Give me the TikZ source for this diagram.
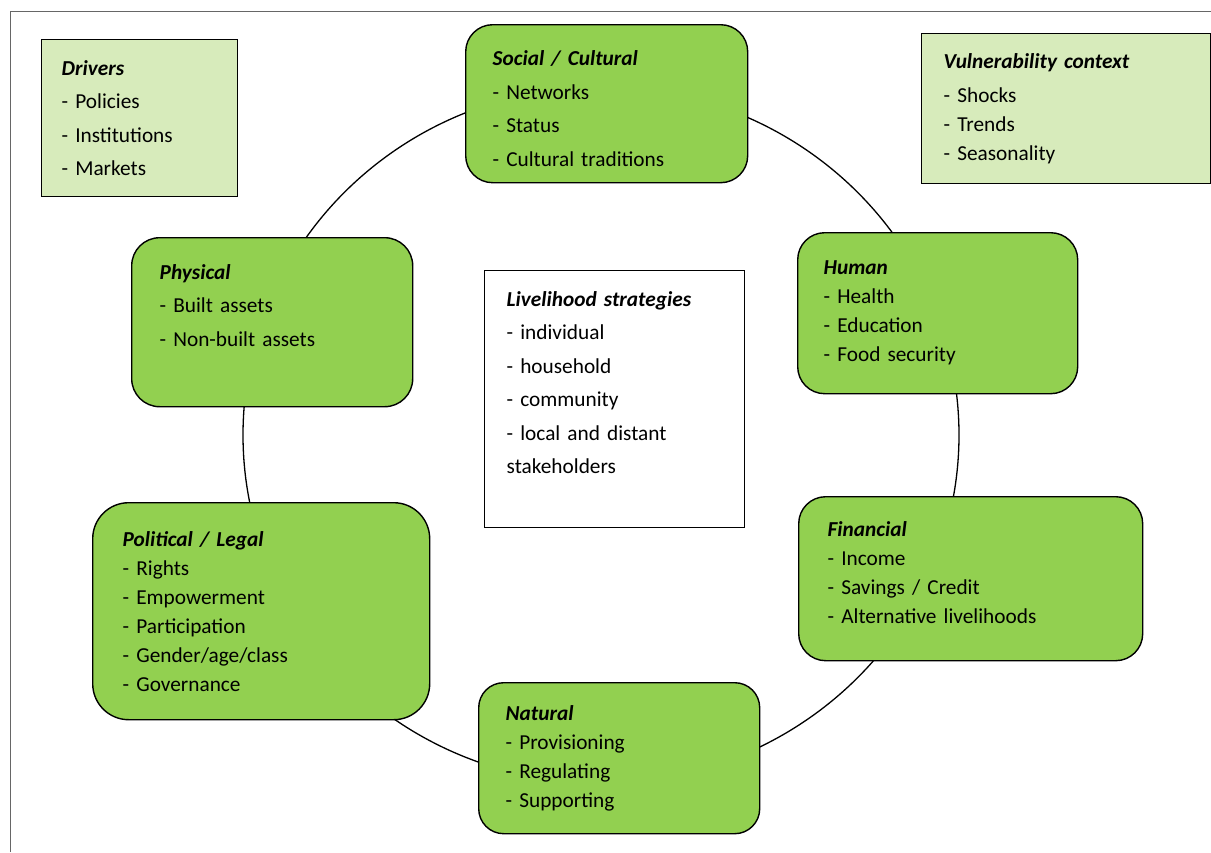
\documentclass[tikz,border=0pt]{standalone}
\usepackage{fontspec}
\setmainfont{Carlito}
\usepackage{tikz}

\definecolor{capgreen}{HTML}{92D050}
\definecolor{ctxgreen}{HTML}{D7EBBB}

\begin{document}
\begin{tikzpicture}[
    x=1pt, y=-1pt,
    font=\fontsize{21.3}{29}\selectfont,
    capital/.style={draw=black, line width=1.4pt, fill=capgreen,
        rounded corners=27pt, anchor=north west, align=left, inner ysep=0pt},
    context/.style={draw=black, line width=1.4pt, fill=ctxgreen,
        anchor=north west, align=left, inner ysep=0pt},
    strategy/.style={draw=black, line width=1.4pt, fill=white,
        anchor=north west, align=left, inner ysep=0pt},
    wide/.style={font=\fontsize{21.3}{33.5}\selectfont},
    ring/.style={draw=black, line width=1.3pt},
    frame/.style={draw=black!60, line width=1pt}
    ]
    \useasboundingbox (0,0) rectangle (1211,852);

    % Rahmen
    \draw [frame] (10,852) |- (1211,11);

    % Kreis der Kapitalarten
    \draw [ring] (601,435) ellipse [x radius=358pt, y radius=348pt];

    % Kapitalarten
    \node (social) [capital, wide, inner xsep=27pt, text width=228pt,
        minimum width=282pt, minimum height=158pt] at (465,24)
        {\rule{0pt}{25pt}\textbf{\itshape Social / Cultural}\\- Networks\\- Status\\- Cultural traditions};
    \node (human) [capital, inner xsep=26pt, text width=228pt,
        minimum width=280pt, minimum height=161pt] at (797,232)
        {\textbf{\itshape Human}\\- Health\\- Education\\- Food security};
    \node (financial) [capital, inner xsep=29pt, text width=286pt,
        minimum width=344pt, minimum height=164pt] at (798,496)
        {\textbf{\itshape Financial}\\- Income\\- Savings / Credit\\- Alternative livelihoods\\[-17pt]\mbox{}};
    \node (natural) [capital, rounded corners=25pt, inner xsep=27pt, text width=227pt,
        minimum width=281pt, minimum height=151pt] at (478,682)
        {\textbf{\itshape Natural}\\- Provisioning\\- Regulating\\- Supporting};
    \node (political) [capital, rounded corners=36pt, inner xsep=30pt, text width=277pt,
        minimum width=337pt, minimum height=217pt] at (92,502)
        {\textbf{\itshape Political / Legal}\\- Rights\\- Empowerment\\- Participation\\- Gender/age/class\\- Governance};
    \node (physical) [capital, wide, rounded corners=28pt, inner xsep=28pt, text width=225pt,
        minimum width=281pt, minimum height=169pt] at (131,237)
        {\textbf{\itshape Physical}\\- Built assets\\- Non-built assets\\ \mbox{}};

    % Mitte
    \node (strategies) [strategy, wide, inner xsep=22pt, text width=216pt,
        minimum width=260pt, minimum height=257pt] at (484,270)
        {\textbf{\itshape Livelihood strategies}\\- individual\\- household\\- community\\- local and distant\\stakeholders\\ \mbox{}};

    % Rahmenbedingungen
    \node (drivers) [context, wide, inner xsep=20pt, text width=156pt,
        minimum width=196pt, minimum height=157pt] at (41,39)
        {\textbf{\itshape Drivers}\\- Policies\\- Institutions\\- Markets};
    \node (vulnerability) [context, inner xsep=22pt, text width=245pt,
        minimum width=289pt, minimum height=150pt] at (921,33)
        {\textbf{\itshape Vulnerability context}\\[5pt]- Shocks\\- Trends\\- Seasonality};
\end{tikzpicture}
\end{document}
